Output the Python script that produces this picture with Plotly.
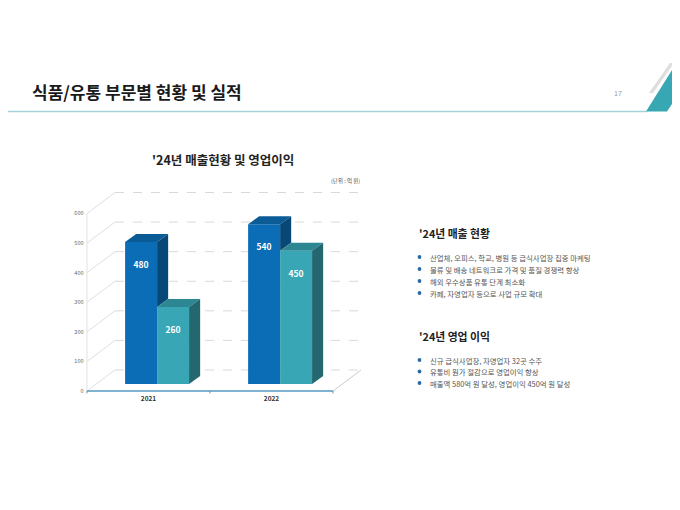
import plotly.graph_objects as go

W, H = 680, 510
FONT = "Noto Sans CJK KR"
PAGE = 8  # the page's body margin pushes the figure 8px right/down

# data
years = ["2021", "2022"]
sales = [480, 540]     # 매출
profit = [260, 450]    # 영업이익
y_ticks = [0, 100, 200, 300, 400, 500, 600]

sales_notes = [
    "산업체, 오피스, 학교, 병원 등 급식사업장 집중 마케팅",
    "물류 및 배송 네트워크로 가격 및 품질 경쟁력 향상",
    "해외 우수상품 유통 단계 최소화",
    "카페, 자영업자 등으로 사업 규모 확대",
]
profit_notes = [
    "신규 급식사업장, 자영업자 32곳 수주",
    "유통비 원가 절감으로 영업이익 향상",
    "매출액 580억 원 달성, 영업이익 450억 원 달성",
]

# fake 3d look (axis units)
wall_dx, wall_dy = 0.228, 71
bar_dx, bar_dy = 0.09, 27
shift, base, bw = 0.07, 24, 0.26

BLUE = ("#0b6db5", "#0a5b96", "#084876")   # front, top, side
TEAL = ("#39a6b6", "#2c8792", "#23676f")


def px(x):
    return (x - PAGE) / W


def py(y):
    return 1 - (y - PAGE) / H


fig = go.Figure()
shapes = []
x0, x1 = -0.5, 1.5
xb0, xb1 = x0 + wall_dx, x1 + wall_dx

# walls / floor
for v in y_ticks:
    shapes.append(dict(type="line", xref="x", yref="y", layer="below",
                       x0=xb0, x1=xb1, y0=v + wall_dy, y1=v + wall_dy,
                       line=dict(color="#cfcfcf", width=0.8, dash="dash")))
    shapes.append(dict(type="line", xref="x", yref="y", layer="below",
                       x0=x0, x1=xb0, y0=v, y1=v + wall_dy,
                       line=dict(color="#d6d6d6", width=0.8)))
shapes.append(dict(type="line", xref="x", yref="y", layer="below",
                   x0=x0, x1=x0, y0=0, y1=y_ticks[-1],
                   line=dict(color="#dcdcdc", width=0.8)))
shapes.append(dict(type="line", xref="x", yref="y", layer="below",
                   x0=x1, x1=xb1, y0=0, y1=wall_dy,
                   line=dict(color="#bdbdbd", width=0.8)))
# blue base line and ticks
shapes.append(dict(type="line", xref="x", yref="y",
                   x0=x0, x1=x1, y0=0, y1=0,
                   line=dict(color="#7fb3cf", width=2)))
for t in [x0, 0.5, x1]:
    shapes.append(dict(type="line", xref="x", yref="y",
                       x0=t, x1=t, y0=0, y1=-8,
                       line=dict(color="#5d94b4", width=1)))

# bars
sets = [(sales, BLUE, -bw / 2, "매출"), (profit, TEAL, bw / 2, "영업이익")]
for vals, col, off, name in sets:
    xs = [i + shift + off for i in range(len(years))]
    fig.add_trace(go.Bar(x=xs, y=vals, base=base, width=bw, name=name,
                         marker=dict(color=col[0], line=dict(width=0)),
                         hoverinfo="skip"))

for k, (vals, col, off, name) in enumerate(sets):
    for i, v in enumerate(vals):
        xl = i + shift + off - bw / 2
        xr = xl + bw
        top = base + v
        # side of the back-left bar hides behind the neighbour
        lo = base + profit[i] if k == 0 else base
        fig.add_trace(go.Scatter(
            x=[xl, xr, xr + bar_dx, xl + bar_dx, xl],
            y=[top, top, top + bar_dy, top + bar_dy, top],
            fill="toself", fillcolor=col[1], mode="lines",
            line=dict(width=0), hoverinfo="skip", showlegend=False))
        fig.add_trace(go.Scatter(
            x=[xr, xr, xr + bar_dx, xr + bar_dx, xr],
            y=[lo, top, top + bar_dy, lo + bar_dy, lo],
            fill="toself", fillcolor=col[2], mode="lines",
            line=dict(width=0), hoverinfo="skip", showlegend=False))
    fig.add_trace(go.Scatter(
        x=[i + shift + off for i in range(len(vals))],
        y=[base + v - 80 for v in vals],
        text=[str(v) for v in vals], mode="text",
        textfont=dict(family=FONT, size=8.5, color="white", weight="bold"),
        hoverinfo="skip", showlegend=False))

# slide decoration
shapes.append(dict(type="line", xref="paper", yref="paper",
                   x0=px(0), x1=px(647), y0=py(111.5), y1=py(111.5),
                   line=dict(color="#a3d2db", width=1.5)))
shapes.append(dict(type="path", xref="paper", yref="paper",
                   path=f"M {px(646)} {py(111.5)} L {px(667)} {py(111.5)} "
                        f"L {px(680)} {py(92)} L {px(680)} {py(62)} "
                        f"L {px(677)} {py(62)} Z",
                   fillcolor="#38a7b4", line=dict(width=0)))
shapes.append(dict(type="path", xref="paper", yref="paper",
                   path=f"M {px(649)} {py(93)} L {px(653)} {py(93)} "
                        f"L {px(674)} {py(63)} L {px(670)} {py(63)} Z",
                   fillcolor="#dddddd", line=dict(width=0)))

ann = [
    dict(x=px(30), y=py(92), text="<b>식품/유통 부문별 현황 및 실적</b>",
         xanchor="left", font=dict(size=17, color="#1a1a1a")),
    dict(x=px(617.5), y=py(93), text="17", xanchor="center",
         font=dict(size=7, color="#9a9a9a")),
    dict(x=px(223), y=py(159), text="<b>'24년 매출현황 및 영업이익</b>",
         xanchor="center", font=dict(size=12.5, color="#222")),
    dict(x=px(362), y=py(181), text="(단위 : 억 원)", xanchor="right",
         font=dict(size=5.5, color="#555")),
    dict(x=px(417), y=py(233), text="<b>'24년 매출 현황</b>", xanchor="left",
         font=dict(size=10.8, color="#222")),
    dict(x=px(417), y=py(336), text="<b>'24년 영업 이익</b>", xanchor="left",
         font=dict(size=10.8, color="#222")),
]
for notes, ys in [(sales_notes, [257, 269, 281, 293]),
                  (profit_notes, [360, 371.5, 383])]:
    for t, y in zip(notes, ys):
        ann.append(dict(x=px(428), y=py(y), text=t, xanchor="left",
                        font=dict(size=7.4, color="#555")))
        shapes.append(dict(type="circle", xref="paper", yref="paper",
                           x0=px(417.6), x1=px(421.4), y0=py(y + 1.9), y1=py(y - 1.9),
                           fillcolor="#2b6aa6", line=dict(width=0)))
for a in ann:
    a.update(xref="paper", yref="paper", showarrow=False)
    a.setdefault("yanchor", "middle")
    a["font"]["family"] = FONT

y_px = 0.29583
fig.update_layout(
    width=W, height=H, margin=dict(l=0, r=0, t=0, b=0),
    paper_bgcolor="white", plot_bgcolor="rgba(0,0,0,0)",
    barmode="overlay", showlegend=False,
    shapes=shapes, annotations=ann,
    font=dict(family=FONT),
    xaxis=dict(domain=[px(84.5), px(362)], range=[-0.52, -0.5 + 275 / 123],
               tickvals=[0, 1], ticktext=years, showgrid=False, zeroline=False,
               ticks="", tickfont=dict(size=6.5, color="#333", weight="bold")),
    yaxis=dict(domain=[py(391 + 10 * y_px), py(190)],
               range=[-10, (391 - 190) / y_px], tickvals=y_ticks,
               showgrid=False, zeroline=False, ticks="",
               tickfont=dict(size=5.5, color="#666")),
)

fig.write_html("out.html")
